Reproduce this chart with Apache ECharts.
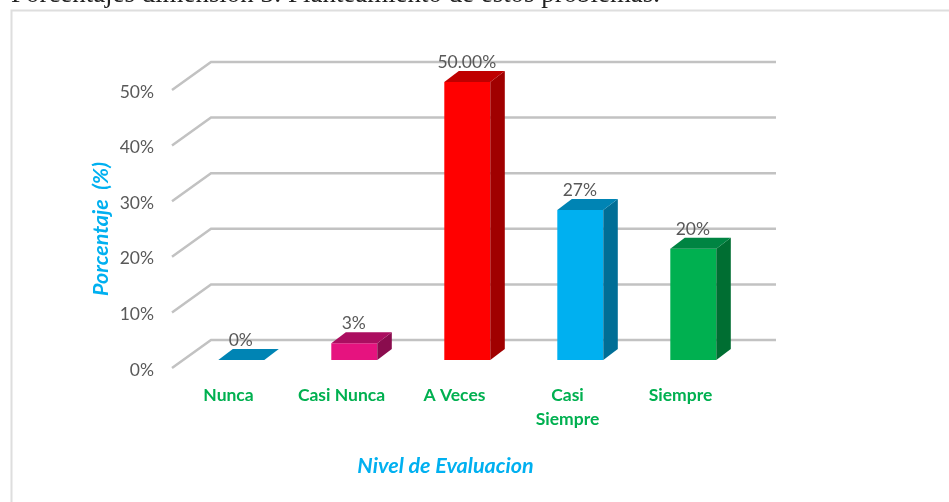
<!DOCTYPE html>
<html><head><meta charset="utf-8">
<style>html,body{margin:0;padding:0;background:#fff}#c{width:949px;height:502px}</style>
<script src="https://cdn.jsdelivr.net/npm/echarts@6/dist/echarts.min.js"></script>
</head><body><div id="c"></div>
<script>
const categories = ['Nunca', 'Casi Nunca', 'A Veces', 'Casi\nSiempre', 'Siempre'];
const values = [0, 3, 50, 27, 20];
const valueLabels = ['0%', '3%', '50.00%', '27%', '20%'];
const yTicks = [0, 10, 20, 30, 40, 50];
const frontColors = ['#00B0F0', '#E6137F', '#FF0000', '#00B0F0', '#00B050'];
const topColors = ['#0084B4', '#AB0E60', '#BF0000', '#0084B4', '#008442'];
const sideColors = ['#006E96', '#8A0C4E', '#A00000', '#006E96', '#006E32'];

const WALL_DX = 39, WALL_DY = 28;
const BAR_SHIFT_X = 12.8, BAR_SHIFT_Y = 8;
const BAR_DX = 14.5, BAR_DY = 11;
const BAR_W = 46;

const chart = echarts.init(document.getElementById('c'), null, {renderer: 'canvas'});

function wallItem(params, api) {
  const p = api.coord([0, api.value(0)]);
  const band = api.size([1, 0])[0];
  const x0 = p[0] - band / 2, y = p[1];
  const x1 = x0 + 5 * band;
  return {
    type: 'polyline',
    shape: {points: [[x0, y], [x0 + WALL_DX, y - WALL_DY], [x1 + WALL_DX, y - WALL_DY]]},
    style: {stroke: '#C2C2C2', lineWidth: 2.5, fill: null}
  };
}

function barItem(params, api) {
  const i = api.value(0), v = api.value(1);
  const base = api.coord([i, 0]), top = api.coord([i, v]);
  const l = base[0] + BAR_SHIFT_X - BAR_W / 2, r = l + BAR_W;
  const b = base[1] - BAR_SHIFT_Y, t = top[1] - BAR_SHIFT_Y;
  const children = [];
  if (v > 0) {
    children.push({type: 'polygon', shape: {points: [[l, b], [r, b], [r, t], [l, t]]},
      style: {fill: frontColors[i]}});
    children.push({type: 'polygon', shape: {points: [[r, b], [r + BAR_DX, b - BAR_DY], [r + BAR_DX, t - BAR_DY], [r, t]]},
      style: {fill: sideColors[i]}});
  }
  children.push({type: 'polygon', shape: {points: [[l, t], [r, t], [r + BAR_DX, t - BAR_DY], [l + BAR_DX, t - BAR_DY]]},
    style: {fill: topColors[i]}});
  children.push({type: 'text', z2: 10, style: {
    text: valueLabels[i], x: (l + r) / 2 - 0.5, y: t - BAR_DY - 8.5,
    align: 'center', verticalAlign: 'middle',
    fill: '#595959', fontSize: 17.5, fontFamily: 'Lato'}});
  return {type: 'group', children};
}

chart.setOption({
  animation: false,
  backgroundColor: '#fff',
  grid: {left: 172, top: 90, width: 565, height: 278},
  graphic: [
    {type: 'rect', silent: true, z: -1, shape: {x: 11.5, y: 10.5, width: 960, height: 520},
     style: {fill: '#fff', stroke: '#DEDEDE', lineWidth: 2}},
    {type: 'text', left: 11, top: -19, silent: true,
     style: {text: 'Porcentajes dimensión 3: Planteamiento de estos problemas.', fill: '#222', fontSize: 26.9, fontFamily: 'Liberation Serif'}}
  ],
  xAxis: {
    type: 'category', data: categories,
    axisLine: {show: false}, axisTick: {show: false},
    axisLabel: {color: '#00B050', fontWeight: 'bold', fontSize: 17.5, fontFamily: 'Lato', lineHeight: 24, margin: 15, interval: 0},
    name: 'Nivel de Evaluacion', nameLocation: 'middle', nameGap: 87,
    nameTextStyle: {color: '#00B0F0', fontWeight: 'bold', fontStyle: 'italic', fontSize: 21.5, fontFamily: 'Lato', padding: [0, 18, 0, 0]}
  },
  yAxis: {
    type: 'value', min: 0, max: 50, interval: 10,
    axisLine: {show: false}, axisTick: {show: false}, splitLine: {show: false},
    axisLabel: {color: '#595959', fontSize: 17.5, fontFamily: 'Lato', margin: 18, verticalAlign: 'top', lineHeight: 4, formatter: '{value}%'},
    name: 'Porcentaje  (%)', nameLocation: 'middle', nameGap: 60, nameRotate: 90, nameMoveOverlap: false,
    nameTextStyle: {color: '#00B0F0', fontWeight: 'bold', fontStyle: 'italic', fontSize: 21.5, fontFamily: 'Lato'}
  },
  series: [
    {type: 'custom', name: 'wall', coordinateSystem: 'cartesian2d', silent: true, z: 1,
     encode: {x: 1, y: 0}, data: yTicks.map(t => [t, 0]), renderItem: wallItem},
    {type: 'custom', name: 'Porcentaje', coordinateSystem: 'cartesian2d', z: 2,
     encode: {x: 0, y: 1}, data: values.map((v, i) => [i, v]), renderItem: barItem}
  ]
});
</script></body></html>
